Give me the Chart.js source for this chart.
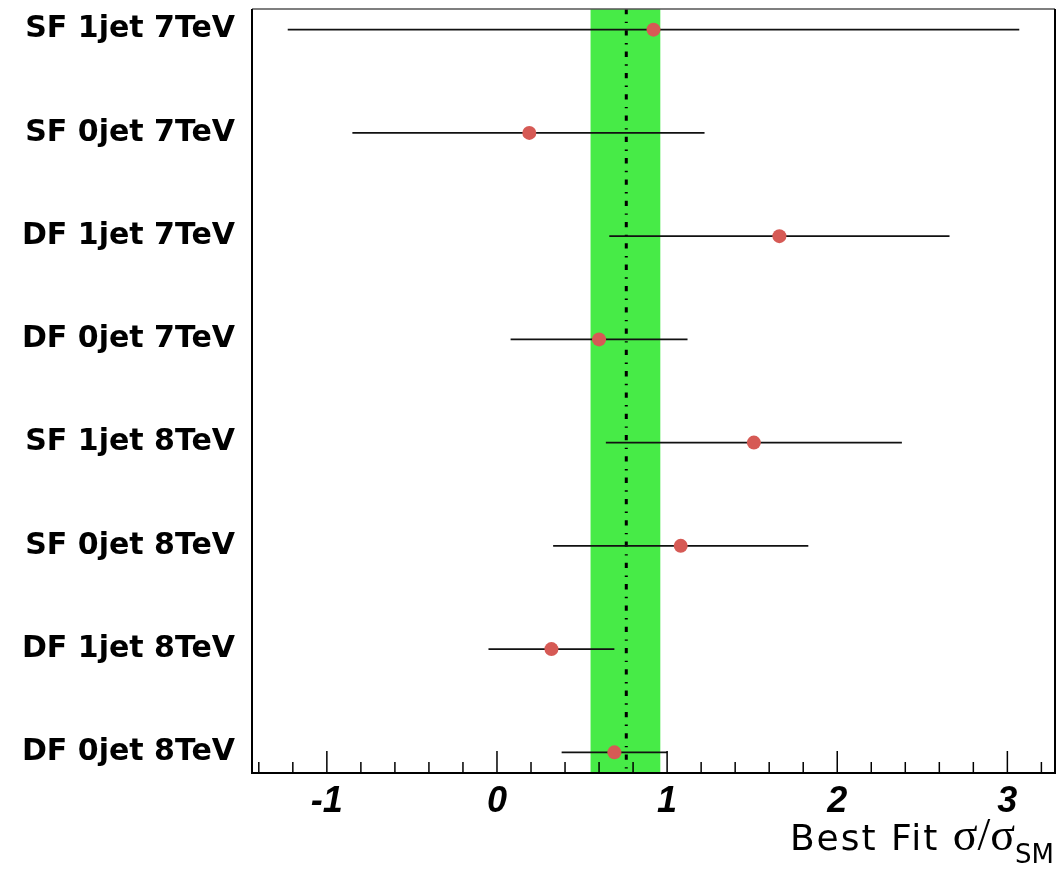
<!DOCTYPE html>
<html>
<head>
<meta charset="utf-8">
<title>Best Fit sigma/sigma_SM per channel</title>
<script src="https://cdn.jsdelivr.net/npm/chart.js@4.4.1/dist/chart.umd.min.js"></script>
<style>
  html, body { margin: 0; padding: 0; background: #fff; }
  #wrap { width: 1062px; height: 879px; position: relative; }
</style>
</head>
<body>
<div id="wrap"><canvas id="chart"></canvas></div>
<script>
// channels, top to bottom
const canais = ['SF 1jet 7TeV', 'SF 0jet 7TeV', 'DF 1jet 7TeV', 'DF 0jet 7TeV',
                'SF 1jet 8TeV', 'SF 0jet 8TeV', 'DF 1jet 8TeV', 'DF 0jet 8TeV'];
const melhorAjuste = [0.92, 0.19, 1.66, 0.60, 1.51, 1.08, 0.32, 0.69];
const erroBaixo   = [-1.23, -0.85, 0.66, 0.08, 0.64, 0.33, -0.05, 0.38];
const erroAlto    = [3.07, 1.22, 2.66, 1.12, 2.38, 1.83, 0.69, 1.00];

// combined result: central value and band
const combinado = 0.76;
const bandaComb = [0.55, 0.96];

// x axis
const xMin = -1.44, xMax = 3.28;
const xMajorTicks = [-1, 0, 1, 2, 3];
const xMinorStep = 0.2;

const yTopo = canais.length - 1;

// ==================== DATASETS ====================
const datasets = [];

// pontos (primeiro = desenhado por cima)
datasets.push({
  label: 'best fit',
  data: melhorAjuste.map((v, i) => ({ x: v, y: yTopo - i })),
  backgroundColor: '#d65a55',
  borderWidth: 0,
  pointRadius: 7,
  pointHoverRadius: 7,
  showLine: false
});

// barras de erro
canais.forEach((c, i) => {
  datasets.push({
    label: c,
    data: [{ x: erroBaixo[i], y: yTopo - i }, { x: erroAlto[i], y: yTopo - i }],
    showLine: true,
    borderColor: '#111',
    borderWidth: 1.6,
    pointRadius: 0,
    fill: false
  });
});

// ==================== PLUGINS ====================
const bandaPlugin = {
  id: 'banda',
  beforeDatasetsDraw(chart) {
    const { ctx, chartArea, scales } = chart;
    const x0 = scales.x.getPixelForValue(bandaComb[0]);
    const x1 = scales.x.getPixelForValue(bandaComb[1]);
    ctx.save();
    ctx.fillStyle = '#47eb47';
    ctx.fillRect(x0, chartArea.top, x1 - x0, chartArea.bottom - chartArea.top);
    const xc = scales.x.getPixelForValue(combinado);
    ctx.strokeStyle = '#000';
    ctx.lineWidth = 3;
    ctx.setLineDash([5.3, 7.4, 1.4, 7.2]);
    ctx.beginPath();
    ctx.moveTo(xc, chartArea.top);
    ctx.lineTo(xc, chartArea.bottom);
    ctx.stroke();
    ctx.restore();
  }
};

const moldura = {
  id: 'moldura',
  afterDatasetsDraw(chart) {
    const { ctx, chartArea: a, scales } = chart;
    ctx.save();
    // ticks para dentro
    ctx.strokeStyle = '#000';
    ctx.lineWidth = 1.5;
    scales.x.ticks.forEach(t => {
      const v = Math.round(t.value * 10) / 10;
      const len = xMajorTicks.includes(v) ? 22 : 11;
      const px = scales.x.getPixelForValue(t.value);
      ctx.beginPath();
      ctx.moveTo(px, a.bottom);
      ctx.lineTo(px, a.bottom - len);
      ctx.stroke();
    });
    // frame
    ctx.strokeStyle = '#555';
    ctx.lineWidth = 1.5;
    ctx.beginPath();
    ctx.moveTo(a.left, a.top);
    ctx.lineTo(a.right, a.top);
    ctx.stroke();
    ctx.strokeStyle = '#000';
    ctx.lineWidth = 2;
    ctx.beginPath();
    ctx.moveTo(a.left, a.top);
    ctx.lineTo(a.left, a.bottom);
    ctx.lineTo(a.right, a.bottom);
    ctx.lineTo(a.right, a.top);
    ctx.stroke();

    // titulo do eixo x
    const partes = [
      { t: 'Best Fit ', f: '36px "DejaVu Sans"', dy: 0, ls: '2px' },
      { t: 'σ/σ', f: '46px "Liberation Serif"', dy: 0, ls: '0px' },
      { t: 'SM', f: '26px "DejaVu Sans"', dy: 13, ls: '0px' }
    ];
    let total = 0;
    partes.forEach(p => {
      ctx.font = p.f; ctx.letterSpacing = p.ls;
      p.w = ctx.measureText(p.t).width; total += p.w;
    });
    let x = 1054 - total;
    const base = 850;
    ctx.fillStyle = '#000';
    ctx.textBaseline = 'alphabetic';
    partes.forEach(p => {
      ctx.font = p.f; ctx.letterSpacing = p.ls;
      ctx.fillText(p.t, x, base + p.dy);
      x += p.w;
    });
    ctx.letterSpacing = '0px';
    ctx.restore();
  }
};

// ==================== CHART ====================
new Chart(document.getElementById('chart'), {
  type: 'scatter',
  data: { datasets },
  options: {
    responsive: true,
    maintainAspectRatio: false,
    animation: false,
    events: [],
    layout: { padding: { top: 9, right: 7, left: 0, bottom: 0 } },
    plugins: {
      legend: { display: false },
      tooltip: { enabled: false }
    },
    scales: {
      x: {
        type: 'linear',
        min: xMin,
        max: xMax,
        afterBuildTicks(scale) {
          const ticks = [];
          for (let v = -1.4; v <= xMax + 1e-9; v += xMinorStep) {
            ticks.push({ value: Math.round(v * 10) / 10 });
          }
          scale.ticks = ticks;
        },
        afterFit(scale) {
          scale.height = 106;
          scale.paddingLeft = 0;
          scale.paddingRight = 0;
        },
        grid: { display: false, drawTicks: false },
        border: { display: false },
        ticks: {
          autoSkip: false,
          maxRotation: 0,
          minRotation: 0,
          padding: 11,
          color: '#000',
          font: { family: '"Liberation Sans", Arial', size: 36, weight: 'bold', style: 'italic', lineHeight: 1 },
          callback(value) {
            const v = Math.round(value * 10) / 10;
            return xMajorTicks.includes(v) ? String(v) : '';
          }
        }
      },
      y: {
        type: 'linear',
        min: -0.2,
        max: yTopo + 0.2,
        afterBuildTicks(scale) {
          scale.ticks = canais.map((c, i) => ({ value: yTopo - i }));
        },
        afterFit(scale) {
          scale.width = 252;
          scale.paddingTop = 0;
          scale.paddingBottom = 0;
        },
        grid: { display: false, drawTicks: false },
        border: { display: false },
        ticks: {
          autoSkip: false,
          padding: 17,
          color: '#000',
          font: { family: '"DejaVu Sans"', size: 30, weight: 'bold', lineHeight: 1 },
          callback(value) {
            return canais[yTopo - Math.round(value)] || '';
          }
        }
      }
    }
  },
  plugins: [bandaPlugin, moldura]
});
</script>
</body>
</html>
